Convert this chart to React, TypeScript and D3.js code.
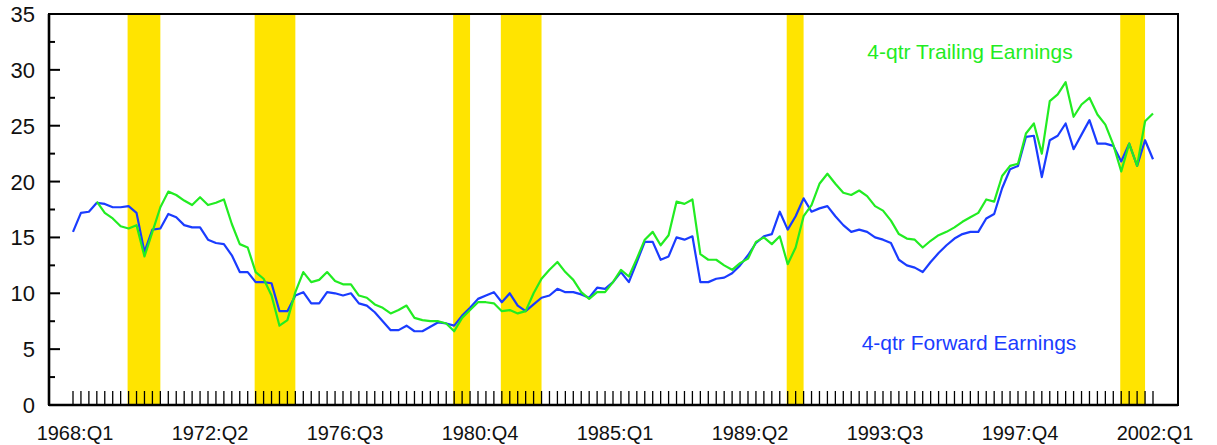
import React from "react";
import * as d3 from "d3";

const W = 1217;
const H = 445;

const startYear = 1968;
const nQuarters = 137;
const quarters: string[] = Array.from({ length: nQuarters }, (_, i) => `${startYear + Math.floor(i / 4)}:Q${(i % 4) + 1}`);

const tickLabels = ["1968:Q1", "1972:Q2", "1976:Q3", "1980:Q4", "1985:Q1", "1989:Q2", "1993:Q3", "1997:Q4", "2002:Q1"];
const yTicks = [0, 5, 10, 15, 20, 25, 30, 35];
const yMinorTicks = [2.5, 7.5, 12.5, 17.5, 22.5, 27.5, 32.5];

const recessions: [string, string][] = [
  ["1969:Q4", "1970:Q4"],
  ["1973:Q4", "1975:Q1"],
  ["1980:Q1", "1980:Q3"],
  ["1981:Q3", "1982:Q4"],
  ["1990:Q3", "1991:Q1"],
  ["2001:Q1", "2001:Q4"],
];

// 4-qtr forward earnings P/E (blue), 1968:Q1 .. 2002:Q1
const forward: number[] = [
  15.5, 17.2, 17.3, 18.1, 18.0, 17.7, 17.7, 17.8, 17.2, 13.7,
  15.7, 15.8, 17.1, 16.8, 16.1, 15.9, 15.9, 14.8, 14.5, 14.4,
  13.4, 11.9, 11.9, 11.0, 11.0, 10.9, 8.4, 8.4, 9.8, 10.1,
  9.1, 9.1, 10.1, 10.0, 9.8, 10.0, 9.1, 8.9, 8.3, 7.5,
  6.7, 6.7, 7.1, 6.6, 6.6, 7.0, 7.4, 7.3, 7.1, 8.0,
  8.7, 9.5, 9.8, 10.1, 9.2, 10.0, 8.9, 8.4, 9.0, 9.6,
  9.8, 10.4, 10.1, 10.1, 9.9, 9.6, 10.5, 10.4, 11.0, 11.9,
  11.0, 12.8, 14.6, 14.6, 13.0, 13.3, 15.0, 14.8, 15.1, 11.0,
  11.0, 11.3, 11.4, 11.8, 12.5, 13.4, 14.5, 15.1, 15.3, 17.3,
  15.7, 16.9, 18.5, 17.3, 17.6, 17.8, 16.9, 16.1, 15.5, 15.7,
  15.5, 15.0, 14.8, 14.5, 13.0, 12.5, 12.3, 11.9, 12.8, 13.6,
  14.3, 14.9, 15.3, 15.5, 15.5, 16.7, 17.1, 19.4, 21.1, 21.4,
  24.0, 24.1, 20.4, 23.7, 24.1, 25.2, 22.9, 24.2, 25.5, 23.4,
  23.4, 23.2, 21.8, 23.4, 21.4, 23.7, 22.0,
];

// 4-qtr trailing earnings P/E (green), starts 1968:Q4
const trailing: (number | null)[] = [
  null, null, null, 18.2, 17.2, 16.7, 16.0, 15.8, 16.1, 13.3,
  15.5, 17.7, 19.1, 18.8, 18.3, 17.9, 18.6, 17.9, 18.1, 18.4,
  16.2, 14.4, 14.1, 11.9, 11.3, 9.8, 7.1, 7.6, 10.1, 11.9,
  11.0, 11.2, 11.9, 11.1, 10.8, 10.8, 9.8, 9.6, 9.0, 8.7,
  8.2, 8.5, 8.9, 7.8, 7.6, 7.5, 7.5, 7.3, 6.6, 7.8,
  8.5, 9.2, 9.2, 9.1, 8.4, 8.5, 8.2, 8.4, 10.0, 11.3,
  12.1, 12.8, 11.9, 11.2, 10.1, 9.5, 10.1, 10.1, 11.0, 12.1,
  11.5, 13.1, 14.8, 15.5, 14.3, 15.2, 18.2, 18.0, 18.4, 13.5,
  13.0, 13.0, 12.5, 12.1, 12.7, 13.1, 14.6, 15.0, 14.4, 15.1,
  12.6, 14.1, 16.9, 17.9, 19.8, 20.7, 19.8, 19.0, 18.8, 19.2,
  18.7, 17.8, 17.4, 16.5, 15.3, 14.9, 14.8, 14.1, 14.7, 15.2,
  15.5, 15.9, 16.4, 16.8, 17.2, 18.4, 18.2, 20.5, 21.4, 21.6,
  24.3, 25.2, 22.5, 27.2, 27.8, 28.9, 25.8, 26.9, 27.5, 26.0,
  25.1, 23.3, 20.9, 23.4, 21.4, 25.4, 26.1,
];

const GREEN = "#22ec22";
const BLUE = "#1a3cff";
const YELLOW = "#ffe400";

export default function App() {
  const left = 49, right = 1178, top = 14, bottom = 405;
  const x = d3.scalePoint<string>().domain(quarters).range([73, 1153]).padding(0);
  const y = d3.scaleLinear().domain([0, 35]).range([bottom, top]);

  const line = d3
    .line<number | null>()
    .defined((d) => d != null)
    .x((_, i) => x(quarters[i]) as number)
    .y((d) => y(d as number));

  const font = "Liberation Sans, Arial, Helvetica, sans-serif";

  return (
    <svg width={W} height={H} style={{ position: "absolute", left: 0, top: 0, background: "#fff" }} fontFamily={font}>
      <rect x={0} y={0} width={W} height={H} fill="#fff" />
      {recessions.map(([a, b], i) => (
        <rect key={i} x={(x(a) as number) - 1} y={top} width={(x(b) as number) - (x(a) as number) + 1} height={bottom - top} fill={YELLOW} />
      ))}
      {/* quarterly ticks */}
      {quarters.map((q) => (
        <line key={q} x1={x(q)} x2={x(q)} y1={bottom - 14} y2={bottom} stroke="#000" strokeWidth={1.3} />
      ))}
      {/* y ticks */}
      {yTicks.map((t) => (
        <g key={t}>
          <line x1={left} x2={left + 11} y1={y(t)} y2={y(t)} stroke="#000" strokeWidth={2} />
          <text x={35} y={y(t) + 8} textAnchor="end" fontSize={22} fill="#111">{t}</text>
        </g>
      ))}
      {yMinorTicks.map((t) => (
        <line key={t} x1={left} x2={left + 6} y1={y(t)} y2={y(t)} stroke="#000" strokeWidth={2} />
      ))}
      {/* x labels */}
      {tickLabels.map((l) => (
        <text key={l} x={(x(l) as number) + 2} y={440} textAnchor="middle" fontSize={20} fill="#111">{l}</text>
      ))}
      {/* lines */}
      <path d={line(forward) || ""} fill="none" stroke={BLUE} strokeWidth={2.2} strokeLinejoin="round" />
      <path d={line(trailing) || ""} fill="none" stroke={GREEN} strokeWidth={2.2} strokeLinejoin="round" />
      {/* frame */}
      <rect x={left} y={top} width={right - left} height={bottom - top} fill="none" stroke="#000" strokeWidth={2} />
      <line x1={left} x2={left} y1={top} y2={bottom} stroke="#000" strokeWidth={2.6} />
      <line x1={left} x2={right} y1={bottom} y2={bottom} stroke="#000" strokeWidth={2.6} />
      {/* legend texts */}
      <text x={970} y={59} textAnchor="middle" fontSize={21} fill={GREEN}>4-qtr Trailing Earnings</text>
      <text x={969} y={350} textAnchor="middle" fontSize={21} fill={BLUE}>4-qtr Forward Earnings</text>
    </svg>
  );
}
